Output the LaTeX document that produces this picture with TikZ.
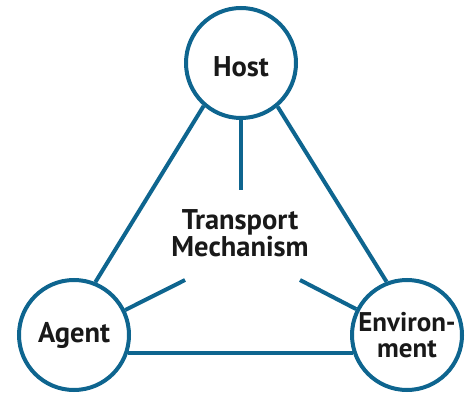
\documentclass[tikz,border=0pt]{standalone}
\usepackage{fontspec}
\setmainfont{PT Sans}
\usepackage{tikz}
\definecolor{tealblue}{RGB}{14,101,143}

\tikzset{
  lbl/.style={font=\bfseries\fontsize{28.5}{24.5}\selectfont, align=center, text=black!90, inner sep=0pt},
  hub/.style={lbl, circle, draw=tealblue, line width=4pt, fill=white, minimum size=110pt, inner sep=-4pt},
  link/.style={draw=tealblue, line width=4pt}
}

\begin{document}
\begin{tikzpicture}[x=1pt,y=-1pt]
  \useasboundingbox (0,0) rectangle (470,395);
  % the three corners
  \node[hub] (host) at (241,63) {\rule{0pt}{27pt}Host};
  \node[hub] (agent) at (74,335) {Agent};
  \node[hub, font=\bfseries\fontsize{27}{25.5}\selectfont] (env) at (407,335) {Environ-\\ment};
  % middle text
  \node[lbl] (mech) at (240,233) {Transport\\Mechanism};
  \coordinate (top) at (241,190);
  \coordinate (left) at (185,280);
  \coordinate (right) at (300,280);
  % edges of the triangle
  \draw[link] (host.229.8) -- (agent.68.7);
  \draw[link] (host.310.2) -- (env.111.3);
  \draw[link] (agent.-18.4) -- (env.198.4);
  % spokes
  \draw[link] (host.south) -- (top);
  \draw[link] (agent.26.4) -- (left);
  \draw[link] (env.153.6) -- (right);
\end{tikzpicture}
\end{document}
